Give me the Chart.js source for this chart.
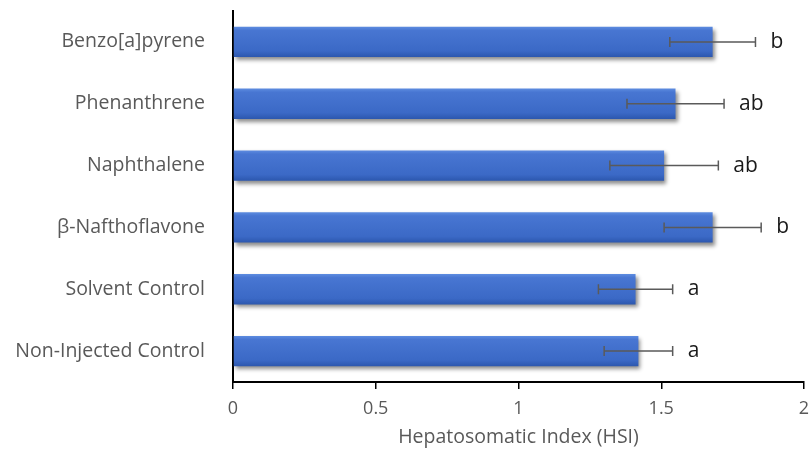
<!DOCTYPE html>
<html>
<head>
<meta charset="utf-8">
<script src="https://cdn.jsdelivr.net/npm/chart.js@4.4.1/dist/chart.umd.min.js"></script>
<style>
  html, body { margin: 0; padding: 0; background: #fff; }
  #wrap { width: 809px; height: 458px; }
</style>
</head>
<body>
<div id="wrap"><canvas id="hsi_chart" width="809" height="458"></canvas></div>
<script>
var groups = ['Benzo[a]pyrene', 'Phenanthrene', 'Naphthalene', 'β-Nafthoflavone', 'Solvent Control', 'Non-Injected Control'];
var hsiMean = [1.68, 1.55, 1.51, 1.68, 1.41, 1.42];
var hsiSD = [0.15, 0.17, 0.19, 0.17, 0.13, 0.12];
var sigLetters = ['b', 'ab', 'ab', 'b', 'a', 'a'];
var xTicks = [0, 0.5, 1, 1.5, 2];

var FONT = "'Open Sans', 'Noto Sans', sans-serif";
var BAR_PCT = 0.49;

function barGradient(c) {
    var chart = c.chart;
    if (!chart.chartArea || c.type !== 'data') return '#4472C4';
    var yS = chart.scales.y;
    var yc = yS.getPixelForValue(c.dataIndex);
    var half = (yS.height / groups.length) * BAR_PCT / 2;
    var g = chart.ctx.createLinearGradient(0, yc - half, 0, yc + half);
    g.addColorStop(0, '#5d8ce0');
    g.addColorStop(0.12, '#4876d2');
    g.addColorStop(0.8, '#3b69c6');
    g.addColorStop(1, '#2c57ae');
    return g;
}

var extras = {
    id: 'extras',
    beforeDatasetsDraw: function (chart) {
        var ctx = chart.ctx;
        ctx.save();
        ctx.shadowColor = 'rgba(0,0,0,0.45)';
        ctx.shadowBlur = 4;
        ctx.shadowOffsetX = 2;
        ctx.shadowOffsetY = 3;
    },
    afterDatasetsDraw: function (chart) {
        var ctx = chart.ctx;
        ctx.restore();
        var xS = chart.scales.x, yS = chart.scales.y;
        ctx.save();
        ctx.strokeStyle = '#5a5a5a';
        ctx.lineWidth = 1.5;
        for (var i = 0; i < hsiMean.length; i++) {
            var y = yS.getPixelForValue(i);
            var x1 = xS.getPixelForValue(hsiMean[i] - hsiSD[i]);
            var x2 = xS.getPixelForValue(hsiMean[i] + hsiSD[i]);
            ctx.beginPath();
            ctx.moveTo(x1, y); ctx.lineTo(x2, y);
            ctx.moveTo(x1, y - 5); ctx.lineTo(x1, y + 5);
            ctx.moveTo(x2, y - 5); ctx.lineTo(x2, y + 5);
            ctx.stroke();
            ctx.fillStyle = '#1a1a1a';
            ctx.font = '21px ' + FONT;
            ctx.textAlign = 'left';
            ctx.textBaseline = 'middle';
            ctx.fillText(sigLetters[i], x2 + 15, y);
        }
        ctx.restore();
    }
};

var CHART = document.getElementById('hsi_chart').getContext('2d');
var hsi_chart = new Chart(CHART, {
    type: 'bar',
    data: {
        labels: groups,
        datasets: [{
            data: hsiMean,
            backgroundColor: barGradient,
            borderWidth: 0,
            barPercentage: 1,
            categoryPercentage: BAR_PCT
        }]
    },
    options: {
        indexAxis: 'y',
        responsive: false,
        animation: false,
        layout: { padding: { top: 11, right: 5, bottom: 0, left: 0 } },
        plugins: { legend: { display: false }, tooltip: { enabled: false } },
        scales: {
            x: {
                min: 0,
                max: 2,
                afterBuildTicks: function (s) { s.ticks = xTicks.map(function (v) { return { value: v }; }); },
                afterFit: function (s) { s.height = 76; s.paddingLeft = 0; s.paddingRight = 0; },
                grid: { display: true, drawOnChartArea: false, drawTicks: true, tickLength: 7, color: '#000', lineWidth: 1.5 },
                border: { display: true, color: '#000', width: 2 },
                ticks: {
                    color: '#595959', font: { family: FONT, size: 18 }, padding: 9, maxRotation: 0,
                    callback: function (v) { return String(v); }
                },
                title: { display: true, text: 'Hepatosomatic Index (HSI)', color: '#595959', font: { family: FONT, size: 19.5 }, padding: { top: 4, bottom: 9 } }
            },
            y: {
                afterFit: function (s) { s.width = 233; s.paddingTop = 0; s.paddingBottom = 0; },
                grid: { display: false },
                border: { display: true, color: '#000', width: 2 },
                ticks: { color: '#595959', font: { family: FONT, size: 19.5 }, padding: 20 }
            }
        }
    },
    plugins: [extras]
});
</script>
</body>
</html>
